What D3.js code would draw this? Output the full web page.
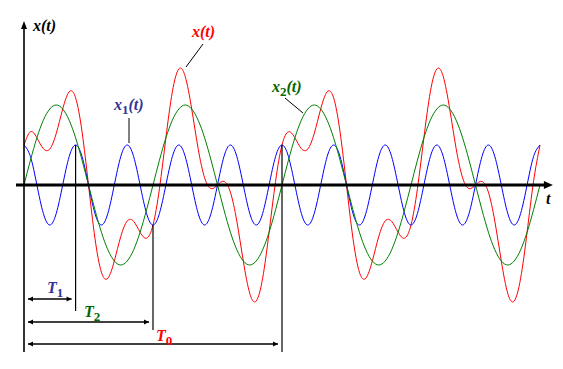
<!DOCTYPE html>
<html>
<head>
<meta charset="utf-8">
<script src="https://cdn.jsdelivr.net/npm/d3@7"></script>
<style>
body { margin: 0; background: #fff; }
</style>
</head>
<body>
<div id="chart"></div>
<script>
// Data: two periods of the sum x(t) = x1(t) + x2(t), with T0 = 1, read every T0/40
const tValues = d3.range(0, 81).map(k => k / 40)

const x1Values = [
    1, .71, 0, -.71, -1, -.71, 0, .71,
    1, .71, 0, -.71, -1, -.71, 0, .71,
    1, .71, 0, -.71, -1, -.71, 0, .71,
    1, .71, 0, -.71, -1, -.71, 0, .71,
    1, .71, 0, -.71, -1, -.71, 0, .71,
    1, .71, 0, -.71, -1, -.71, 0, .71,
    1, .71, 0, -.71, -1, -.71, 0, .71,
    1, .71, 0, -.71, -1, -.71, 0, .71,
    1, .71, 0, -.71, -1, -.71, 0, .71,
    1, .71, 0, -.71, -1, -.71, 0, .71,
    1
]

const x2Values = [
    0, .62, 1.18, 1.62, 1.9, 2, 1.9, 1.62, 1.18, .62, 0, -.62, -1.18, -1.62, -1.9, -2, -1.9, -1.62, -1.18, -.62,
    0, .62, 1.18, 1.62, 1.9, 2, 1.9, 1.62, 1.18, .62, 0, -.62, -1.18, -1.62, -1.9, -2, -1.9, -1.62, -1.18, -.62,
    0, .62, 1.18, 1.62, 1.9, 2, 1.9, 1.62, 1.18, .62, 0, -.62, -1.18, -1.62, -1.9, -2, -1.9, -1.62, -1.18, -.62,
    0, .62, 1.18, 1.62, 1.9, 2, 1.9, 1.62, 1.18, .62, 0, -.62, -1.18, -1.62, -1.9, -2, -1.9, -1.62, -1.18, -.62,
    0
]

const xValues = [
    1, 1.33, 1.18, .91, .9, 1.29, 1.9, 2.33, 2.18, 1.33,
    0, -1.33, -2.18, -2.33, -1.9, -1.29, -.9, -.91, -1.18, -1.33,
    -1, -.09, 1.18, 2.33, 2.9, 2.71, 1.9, .91, .18, -.09,
    0, .09, -.18, -.91, -1.9, -2.71, -2.9, -2.33, -1.18, .09,
    1, 1.33, 1.18, .91, .9, 1.29, 1.9, 2.33, 2.18, 1.33,
    0, -1.33, -2.18, -2.33, -1.9, -1.29, -.9, -.91, -1.18, -1.33,
    -1, -.09, 1.18, 2.33, 2.9, 2.71, 1.9, .91, .18, -.09,
    0, .09, -.18, -.91, -1.9, -2.71, -2.9, -2.33, -1.18, .09,
    1
]

// periods T1, T2, T0
const periodSubs = ['1', '2', '0']
const periodLengths = [0.2, 0.5, 1]

// Dimension
let dimensions = {
    width: 563,
    height: 369
}

const colors = {
    x: '#ff0000', x1: '#0000ff', x2: '#008000',
    label_x: '#ff0000', label_x1: '#333399', label_x2: '#006600'
}

const svg = d3.select('#chart')
    .append('svg')
    .attr('width', dimensions.width)
    .attr('height', dimensions.height)

const xScale = d3.scaleLinear()
    .domain([0, 2])
    .range([24, 540])

const yScale = d3.scaleLinear()
    .domain([-3, 3])
    .range([305, 65])

// Curves
const line = d3.line()
    .x((d, i) => xScale(tValues[i]))
    .y(d => yScale(d))
    .curve(d3.curveNatural)

const series = [
    {key: 'x', values: xValues},
    {key: 'x1', values: x1Values},
    {key: 'x2', values: x2Values}
]

svg.selectAll('path.curve')
    .data(series)
    .join('path')
    .attr('class', 'curve')
    .attr('d', d => line(d.values))
    .attr('fill', 'none')
    .attr('stroke', d => colors[d.key])
    .attr('stroke-width', 1)

// Axes
const y0 = yScale(0)
const xLeft = xScale(0)

svg.append('line')
    .attr('x1', xScale(-0.031)).attr('x2', xScale(2.02))
    .attr('y1', y0).attr('y2', y0)
    .attr('stroke', '#000')
    .attr('stroke-width', 3)

svg.append('path')
    .attr('d', `M${xScale(2.05)},${y0} L${xScale(2.05) - 9},${y0 - 4} L${xScale(2.05) - 9},${y0 + 4} Z`)
    .attr('fill', '#000')

svg.append('line')
    .attr('x1', xLeft).attr('x2', xLeft)
    .attr('y1', 352).attr('y2', 26)
    .attr('stroke', '#000')
    .attr('stroke-width', 1.6)

svg.append('path')
    .attr('d', `M${xLeft},21 L${xLeft - 3},29 L${xLeft + 3},29 Z`)
    .attr('fill', '#000')

// text helper: bold italic serif, upright subscript
function label(x, y, main, sub, rest, color) {
    const t = svg.append('text')
        .attr('x', x)
        .attr('y', y)
        .attr('fill', color)
        .attr('font-family', '"Liberation Serif", "DejaVu Serif", serif')
        .attr('font-weight', 'bold')
        .attr('font-style', 'italic')
        .attr('font-size', '16px')
    t.append('tspan').text(main)
    if (sub) {
        t.append('tspan')
            .attr('dy', 4)
            .attr('font-size', '13px')
            .attr('font-style', 'normal')
            .text(sub)
        if (rest) t.append('tspan').attr('dy', -4).text(rest)
    } else if (rest) {
        t.append('tspan').text(rest)
    }
    return t
}

label(33, 31, 'x', '', '(t)', '#000')
label(546, 204, 't', '', '', '#000')

// Period markers
const dimY = [299, 322, 344]
const dimBottom = [311, 330, 352]
const labelX = [47, 84, 156]
const labelY = [293, 317, 341]
const periodColors = [colors.label_x1, colors.label_x2, colors.label_x]

periodLengths.forEach((T, i) => {
    const xe = xScale(T)
    const top = yScale(x1Values[Math.round(T * 40)])

    svg.append('line')
        .attr('x1', xe).attr('x2', xe)
        .attr('y1', top).attr('y2', dimBottom[i])
        .attr('stroke', '#000')
        .attr('stroke-width', 1.2)

    const a = xLeft + 4
    const b = xe - 4
    svg.append('line')
        .attr('x1', a).attr('x2', b)
        .attr('y1', dimY[i]).attr('y2', dimY[i])
        .attr('stroke', '#000')
        .attr('stroke-width', 1.5)

    svg.append('path')
        .attr('d', `M${a},${dimY[i]} l5,-2.5 l0,5 Z M${b},${dimY[i]} l-5,-2.5 l0,5 Z`)
        .attr('fill', '#000')

    label(labelX[i], labelY[i], 'T', periodSubs[i], '', periodColors[i])
})

// Curve labels with leader lines
const callouts = [
    {key: 'x', sub: '', tx: 192, ty: 37, line: [203, 44, 186, 67]},
    {key: 'x2', sub: '2', tx: 272, ty: 92, line: [285, 98, 303, 113]},
    {key: 'x1', sub: '1', tx: 114, ty: 110, line: [129, 118, 129, 143]}
]

callouts.forEach(c => {
    svg.append('line')
        .attr('x1', c.line[0]).attr('y1', c.line[1])
        .attr('x2', c.line[2]).attr('y2', c.line[3])
        .attr('stroke', '#000')
        .attr('stroke-width', 1)

    label(c.tx, c.ty, 'x', c.sub, '(t)', colors['label_' + c.key])
})
</script>
</body>
</html>
